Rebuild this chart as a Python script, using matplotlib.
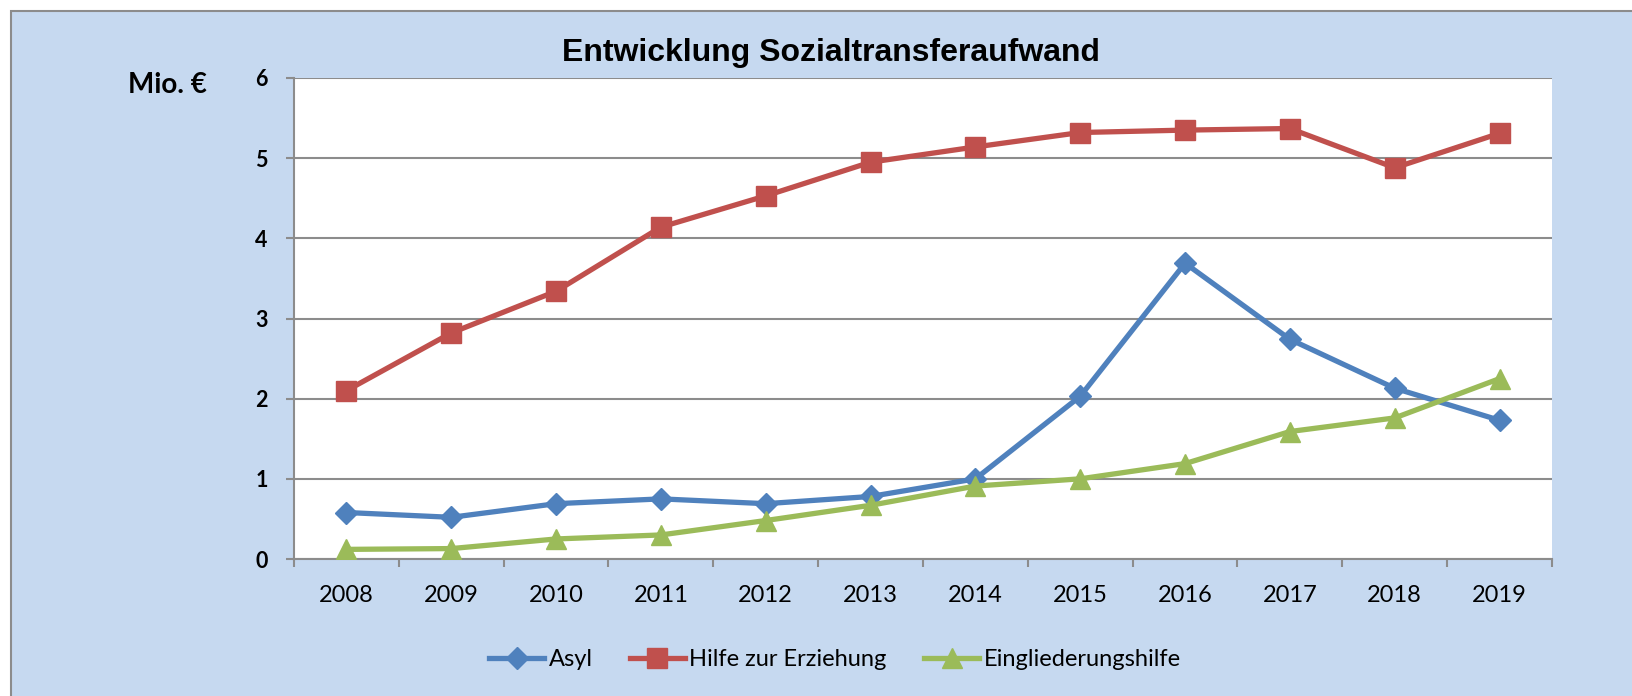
import matplotlib
matplotlib.use("Agg")
import matplotlib.pyplot as plt
from matplotlib.patches import Rectangle
from matplotlib.ticker import FixedLocator, NullFormatter

years = ["2008", "2009", "2010", "2011", "2012", "2013", "2014", "2015", "2016", "2017", "2018", "2019"]
asyl = [0.58, 0.52, 0.69, 0.75, 0.69, 0.78, 1.00, 2.03, 3.69, 2.74, 2.13, 1.73]
hilfe = [2.10, 2.82, 3.34, 4.14, 4.53, 4.95, 5.14, 5.32, 5.35, 5.37, 4.88, 5.31]
eingl = [0.12, 0.13, 0.25, 0.30, 0.48, 0.67, 0.91, 1.00, 1.19, 1.59, 1.76, 2.25]
series_names = ["Asyl", "Hilfe zur Erziehung", "Eingliederungshilfe"]
yticks = [0, 1, 2, 3, 4, 5, 6]

W, H = 1633, 696
fig = plt.figure(figsize=(W / 100, H / 100), dpi=100)
fig.patch.set_facecolor("white")

bg = Rectangle((11 / W, -0.01), 1.02 - 11 / W, 1 - 11 / H + 0.01, transform=fig.transFigure,
               facecolor="#C6D9F0", edgecolor="#8C8C8C", linewidth=1.5, zorder=-10)
fig.patches.append(bg)

left, right, top, bottom = 294, 1552, 78, 559
ax = fig.add_axes([left / W, 1 - bottom / H, (right - left) / W, (bottom - top) / H])
ax.set_facecolor("white")

x = list(range(len(years)))
ax.plot(x, asyl, color="#4F81BD", lw=3.8, marker="D", ms=11, label=series_names[0], zorder=3)
ax.plot(x, hilfe, color="#C0504D", lw=3.8, marker="s", ms=14, label=series_names[1], zorder=3)
ax.plot(x, eingl, color="#9BBB59", lw=3.8, marker="^", ms=14.5, label=series_names[2], zorder=3)

ax.set_xlim(-0.5, len(years) - 0.5)
ax.set_ylim(0, 6)
ax.set_yticks(yticks)
ax.set_yticklabels([str(v) for v in yticks], fontfamily="Lato", fontweight="bold", fontsize=15.5)
ax.set_xticks(x)
ax.set_xticklabels(years, fontfamily="Lato", fontsize=17)
ax.xaxis.set_minor_locator(FixedLocator([i - 0.5 for i in range(len(years) + 1)]))
ax.xaxis.set_minor_formatter(NullFormatter())
ax.tick_params(axis="x", which="major", length=0, pad=19)
ax.tick_params(axis="x", which="minor", length=6, width=1.5, color="#8C8C8C", direction="out")
ax.tick_params(axis="y", length=6, width=1.5, color="#8C8C8C", direction="out", pad=13)

ax.grid(axis="y", color="#8C8C8C", lw=1.5, zorder=1)
ax.set_axisbelow(True)
for s in ["top", "right"]:
    ax.spines[s].set_visible(False)
for s in ["left", "bottom"]:
    ax.spines[s].set_color("#8C8C8C")
    ax.spines[s].set_linewidth(1.5)

fig.text(831 / W, 1 - 53 / H, "Entwicklung Sozialtransferaufwand", ha="center", va="center",
         fontfamily="Liberation Sans", fontweight="bold", fontsize=23)
fig.text(167 / W, 1 - 85 / H, "Mio. €", ha="center", va="center",
         fontfamily="Lato", fontweight="bold", fontsize=20)

fig.legend(loc="center", bbox_to_anchor=(835 / W, 1 - 660 / H), ncol=3, frameon=False,
           prop={"family": "Lato", "size": 17}, handlelength=2.3, handletextpad=0.2,
           columnspacing=1.6)

fig.savefig("out.png", dpi=100)
